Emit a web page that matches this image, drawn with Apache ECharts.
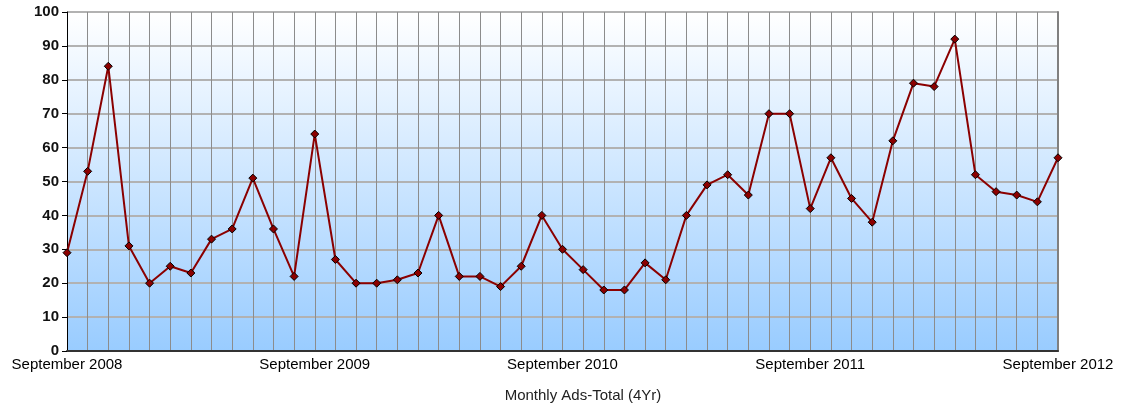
<!DOCTYPE html>
<html>
<head>
<meta charset="utf-8">
<script src="https://cdn.jsdelivr.net/npm/echarts@6/dist/echarts.min.js"></script>
<style>html,body{margin:0;padding:0;background:#fff}#c{width:1123px;height:406px}</style>
</head>
<body>
<div id="c"></div>
<script>
const startYear = 2008;
const monthNames = ['January','February','March','April','May','June','July','August','September','October','November','December'];
const categories = [];
for (let i = 0; i < 49; i++) {
  const m = (8 + i) % 12;
  const y = startYear + Math.floor((8 + i) / 12);
  categories.push(monthNames[m] + ' ' + y);
}
const values = [29,53,84,31,20,25,23,33,36,51,36,22,64,27,20,20,21,23,40,22,22,19,25,40,30,24,18,18,26,21,40,49,52,46,70,70,42,57,45,38,62,79,78,92,52,47,46,44,57];
const yTicks = [0,10,20,30,40,50,60,70,80,90,100];
const titleText = 'Monthly Ads-Total (4Yr)';

const chart = echarts.init(document.getElementById('c'));
const font = '"Liberation Sans", Arial, sans-serif';
chart.setOption({
  animation: false,
  grid: {
    left: 67, right: 65, top: 12, bottom: 55,
    show: true,
    borderWidth: 0,
    backgroundColor: new echarts.graphic.LinearGradient(0,0,0,1,[{offset:0,color:'#ffffff'},{offset:1,color:'#99ccff'}])
  },
  graphic: [{
    type: 'text', x: 583, y: 396,
    style: { text: titleText, fill: '#222', font: '15px ' + font, align: 'center', verticalAlign: 'middle' }
  }],
  xAxis: [{
    type: 'category', data: categories, boundaryGap: false,
    axisLine: { lineStyle: { color: '#808080', width: 1 } },
    axisTick: { show: false },
    axisLabel: {
      interval: function (i) { return i % 12 === 0; },
      color: '#000', fontFamily: font, fontSize: 15, margin: 6,
      showMinLabel: true, showMaxLabel: true
    },
    splitLine: { show: true, interval: 0, lineStyle: { color: '#8c8c8c', width: 1 } }
  }, {
    type: 'category', data: categories, boundaryGap: false, position: 'top',
    axisLine: { lineStyle: { color: '#333', width: 2 } },
    axisTick: { show: false }, axisLabel: { show: false }, splitLine: { show: false }
  }],
  yAxis: [{
    type: 'value', min: yTicks[0], max: yTicks[yTicks.length-1], interval: 10,
    axisLine: { show: true, lineStyle: { color: '#000', width: 1 } },
    axisTick: { show: true, length: 5, lineStyle: { color: '#000' } },
    axisLabel: { color: '#111', fontFamily: font, fontSize: 15, fontWeight: 'bold', margin: 8 },
    splitLine: { show: true, lineStyle: { color: '#b2b2b2', width: 2 } }
  }, {
    type: 'value', min: 0, max: 100, interval: 10, position: 'right',
    axisLine: { show: true, lineStyle: { color: '#808080', width: 2 } },
    axisTick: { show: false }, axisLabel: { show: false }, splitLine: { show: false }
  }],
  series: [{
    type: 'line', data: values,
    lineStyle: { color: '#8b0000', width: 2 },
    symbol: 'diamond', symbolSize: 8,
    itemStyle: { color: '#8b0000', borderColor: '#000', borderWidth: 1 },
    z: 5
  }]
});
</script>
</body>
</html>
